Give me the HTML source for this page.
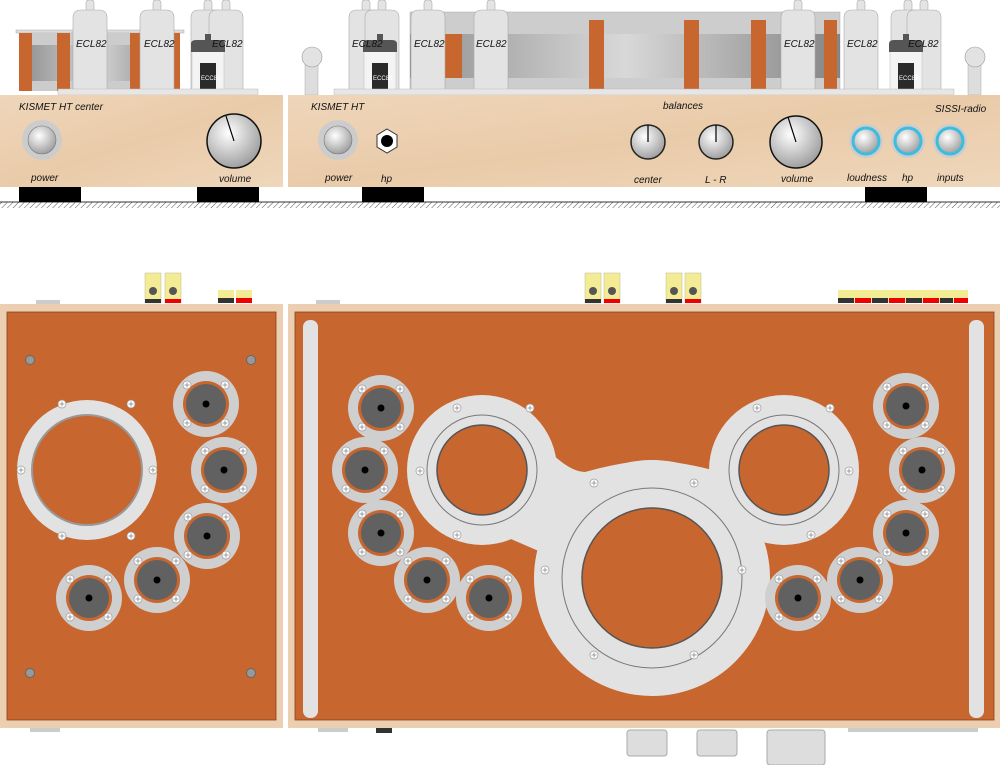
<!DOCTYPE html>
<html><head><meta charset="utf-8"><style>
html,body{margin:0;padding:0;background:#fff;width:1000px;height:765px;overflow:hidden}
text{font-family:"Liberation Sans",sans-serif;font-style:italic;font-size:10px;fill:#111}
</style></head><body>
<svg width="1000" height="765" viewBox="0 0 1000 765" xmlns="http://www.w3.org/2000/svg">
<defs>
<radialGradient id="kn" cx="40%" cy="35%" r="70%"><stop offset="0" stop-color="#fff"/><stop offset="1" stop-color="#999"/></radialGradient>
<linearGradient id="wood" x1="0" y1="0" x2="1" y2="1"><stop offset="0" stop-color="#efd6ba"/><stop offset="0.5" stop-color="#e9cba9"/><stop offset="1" stop-color="#efd7bb"/></linearGradient>
<linearGradient id="glass" x1="0" x2="1"><stop offset="0" stop-color="#777"/><stop offset="0.5" stop-color="#ddd"/><stop offset="1" stop-color="#666"/></linearGradient>
<pattern id="hatch" width="4" height="4" patternUnits="userSpaceOnUse" patternTransform="rotate(45)"><line x1="0" y1="0" x2="0" y2="4" stroke="#555" stroke-width="1"/></pattern>
<g id="scr"><circle r="4" fill="#fff" stroke="#999" stroke-width="0.7"/><path d="M-2.5 0H2.5M0 -2.5V2.5" stroke="#888" stroke-width="0.8"/></g>
<g id="sock"><circle r="33" fill="#cfcfcf"/><circle r="23" fill="#c8662f"/><circle r="20" fill="#616161"/><circle r="3.5" fill="#000"/>
<use href="#scr" x="-19" y="-19"/><use href="#scr" x="19" y="-19"/><use href="#scr" x="-19" y="19"/><use href="#scr" x="19" y="19"/></g>
<g id="tube"><rect x="-4" y="0" width="8" height="12" rx="3" fill="#e4e4e4" stroke="#aaa" stroke-width="0.6"/><path d="M-17 90V18Q-17 10 -9 10H9Q17 10 17 18V90Z" fill="#e3e3e3" stroke="#aaa" stroke-width="0.6"/></g>
<g id="ecc"><rect x="-16" y="43" width="32" height="47" fill="#f4f4f4" stroke="#bbb" stroke-width="0.5"/><path d="M-17 52V44Q-17 40 -12 40H-3V34H3V40H12Q17 40 17 44V52Z" fill="#555"/><rect x="-8" y="63" width="16" height="26" fill="#2a2a2a"/><text x="-7" y="80" style="font-size:6px;fill:#fff;font-style:normal">ECC83</text></g>
<g id="knob"><circle r="17" fill="url(#kn)" stroke="#222" stroke-width="1.5"/><line x1="0" y1="0" x2="0" y2="-17" stroke="#000" stroke-width="1.2"/></g>
<g id="btn"><circle r="20" fill="#ccc"/><circle r="14" fill="url(#kn)" stroke="#777" stroke-width="0.6"/></g>
<g id="cbtn"><circle r="17" fill="#ccc"/><circle r="13" fill="url(#kn)" stroke="#3bbde0" stroke-width="3"/></g>
</defs>

<rect x="0" y="202" width="1000" height="6" fill="url(#hatch)"/>
<line x1="0" y1="202" x2="1000" y2="202" stroke="#333" stroke-width="1"/>

<!-- LEFT TOP -->
<rect x="16" y="30" width="168" height="3" fill="#ddd" stroke="#aaa" stroke-width="0.5"/>
<rect x="24" y="33" width="150" height="58" fill="#ccc"/>
<rect x="32" y="45" width="130" height="36" fill="url(#glass)" opacity="0.6"/>
<rect x="19" y="33" width="13" height="58" fill="#c8662f"/><rect x="57" y="33" width="13" height="58" fill="#c8662f"/>
<rect x="130" y="33" width="10" height="58" fill="#c8662f"/><rect x="173" y="33" width="7" height="58" fill="#c8662f"/>
<use href="#tube" x="90" y="0"/><text x="76" y="47">ECL82</text>
<use href="#tube" x="157" y="0"/><text x="144" y="47">ECL82</text>
<use href="#tube" x="208" y="0"/><use href="#tube" x="226" y="0"/>
<use href="#ecc" x="208" y="0"/><text x="212" y="47">ECL82</text>
<rect x="58" y="89" width="200" height="6" fill="#e6e6e6" stroke="#bbb" stroke-width="0.5"/>
<rect x="0" y="95" width="283" height="92" fill="url(#wood)"/>
<text x="19" y="110">KISMET HT center</text>
<use href="#btn" x="42" y="140"/>
<circle cx="234" cy="141" r="27" fill="url(#kn)" stroke="#111" stroke-width="1.5"/><line x1="234" y1="141" x2="226" y2="116" stroke="#000" stroke-width="1.2"/>
<text x="31" y="181">power</text><text x="219" y="182">volume</text>
<rect x="19" y="187" width="62" height="15" fill="#000"/><rect x="197" y="187" width="62" height="15" fill="#000"/>

<!-- RIGHT TOP -->
<rect x="305" y="62" width="13" height="33" fill="#ddd" stroke="#aaa" stroke-width="0.5"/><circle cx="312" cy="57" r="10" fill="#e2e2e2" stroke="#999" stroke-width="0.6"/>
<rect x="968" y="62" width="13" height="33" fill="#ddd" stroke="#aaa" stroke-width="0.5"/><circle cx="975" cy="57" r="10" fill="#e2e2e2" stroke="#999" stroke-width="0.6"/>
<rect x="410" y="12" width="430" height="80" fill="#cdcdcd" stroke="#aaa" stroke-width="0.5"/>
<rect x="410" y="34" width="430" height="44" fill="url(#glass)" opacity="0.7"/>
<rect x="442" y="34" width="20" height="44" fill="#c8662f"/>
<rect x="589" y="20" width="15" height="72" fill="#c8662f"/><rect x="684" y="20" width="15" height="72" fill="#c8662f"/>
<rect x="751" y="20" width="15" height="72" fill="#c8662f"/><rect x="824" y="20" width="13" height="72" fill="#c8662f"/>
<use href="#tube" x="366" y="0"/><use href="#tube" x="382" y="0"/><use href="#ecc" x="380" y="0"/><text x="352" y="47">ECL82</text>
<use href="#tube" x="428" y="0"/><text x="414" y="47">ECL82</text>
<use href="#tube" x="491" y="0"/><text x="476" y="47">ECL82</text>
<use href="#tube" x="798" y="0"/><text x="784" y="47">ECL82</text>
<use href="#tube" x="861" y="0"/><text x="847" y="47">ECL82</text>
<use href="#tube" x="908" y="0"/><use href="#tube" x="924" y="0"/><use href="#ecc" x="906" y="0"/><text x="908" y="47">ECL82</text>
<rect x="334" y="89" width="620" height="6" fill="#e6e6e6" stroke="#bbb" stroke-width="0.5"/>
<rect x="288" y="95" width="712" height="92" fill="url(#wood)"/>
<text x="311" y="110">KISMET HT</text><text x="663" y="109">balances</text><text x="935" y="112">SISSI-radio</text>
<use href="#btn" x="338" y="140"/>
<polygon points="387,129 397,135 397,147 387,153 377,147 377,135" fill="#fff" stroke="#333"/><circle cx="387" cy="141" r="6" fill="#000"/>
<use href="#knob" x="648" y="142"/><use href="#knob" x="716" y="142"/>
<circle cx="796" cy="142" r="26" fill="url(#kn)" stroke="#111" stroke-width="1.5"/><line x1="796" y1="142" x2="788" y2="117" stroke="#000" stroke-width="1.2"/>
<use href="#cbtn" x="866" y="141"/><use href="#cbtn" x="908" y="141"/><use href="#cbtn" x="950" y="141"/>
<text x="325" y="181">power</text><text x="381" y="182">hp</text><text x="634" y="183">center</text><text x="705" y="183">L - R</text><text x="781" y="182">volume</text><text x="847" y="181">loudness</text><text x="902" y="181">hp</text><text x="937" y="181">inputs</text>
<rect x="362" y="187" width="62" height="15" fill="#000"/><rect x="865" y="187" width="62" height="15" fill="#000"/>

<!-- BOTTOM LEFT -->
<rect x="36" y="300" width="24" height="4" fill="#ccc"/>
<rect x="145" y="273" width="16" height="30" fill="#f4ec94" stroke="#bb9" stroke-width="0.5"/><circle cx="153" cy="291" r="4" fill="#555"/><rect x="145" y="299" width="16" height="4" fill="#333"/>
<rect x="165" y="273" width="16" height="30" fill="#f4ec94" stroke="#bb9" stroke-width="0.5"/><circle cx="173" cy="291" r="4" fill="#555"/><rect x="165" y="299" width="16" height="4" fill="#e00"/>
<rect x="218" y="290" width="16" height="13" fill="#f4ec94"/><rect x="218" y="298" width="16" height="5" fill="#333"/>
<rect x="236" y="290" width="16" height="13" fill="#f4ec94"/><rect x="236" y="298" width="16" height="5" fill="#e00"/>
<rect x="0" y="304" width="283" height="424" fill="#eccfb0"/>
<rect x="7" y="312" width="269" height="408" fill="#c8662f" stroke="#8a4020" stroke-width="0.8"/>
<circle cx="87" cy="470" r="70" fill="#e2e2e2"/><circle cx="87" cy="470" r="55" fill="#c8662f" stroke="#999" stroke-width="2"/>
<use href="#scr" x="62" y="404"/><use href="#scr" x="131" y="404"/><use href="#scr" x="21" y="470"/><use href="#scr" x="153" y="470"/><use href="#scr" x="62" y="536"/><use href="#scr" x="131" y="536"/>
<circle cx="30" cy="360" r="4.5" fill="#999" stroke="#666"/><circle cx="251" cy="360" r="4.5" fill="#999" stroke="#666"/><circle cx="30" cy="673" r="4.5" fill="#999" stroke="#666"/><circle cx="251" cy="673" r="4.5" fill="#999" stroke="#666"/>
<use href="#sock" x="206" y="404"/><use href="#sock" x="224" y="470"/><use href="#sock" x="207" y="536"/><use href="#sock" x="157" y="580"/><use href="#sock" x="89" y="598"/>
<rect x="30" y="728" width="30" height="4" fill="#ccc"/>

<!-- BOTTOM RIGHT -->
<rect x="316" y="300" width="24" height="4" fill="#ccc"/>
<rect x="585" y="273" width="16" height="30" fill="#f4ec94" stroke="#bb9" stroke-width="0.5"/><circle cx="593" cy="291" r="4" fill="#555"/><rect x="585" y="299" width="16" height="4" fill="#333"/>
<rect x="604" y="273" width="16" height="30" fill="#f4ec94" stroke="#bb9" stroke-width="0.5"/><circle cx="612" cy="291" r="4" fill="#555"/><rect x="604" y="299" width="16" height="4" fill="#e00"/>
<rect x="666" y="273" width="16" height="30" fill="#f4ec94" stroke="#bb9" stroke-width="0.5"/><circle cx="674" cy="291" r="4" fill="#555"/><rect x="666" y="299" width="16" height="4" fill="#333"/>
<rect x="685" y="273" width="16" height="30" fill="#f4ec94" stroke="#bb9" stroke-width="0.5"/><circle cx="693" cy="291" r="4" fill="#555"/><rect x="685" y="299" width="16" height="4" fill="#e00"/>
<rect x="838" y="290" width="130" height="13" fill="#f4ec94"/>
<rect x="838" y="298" width="16" height="5" fill="#333"/><rect x="855" y="298" width="16" height="5" fill="#e00"/><rect x="872" y="298" width="16" height="5" fill="#333"/><rect x="889" y="298" width="16" height="5" fill="#e00"/><rect x="906" y="298" width="16" height="5" fill="#333"/><rect x="923" y="298" width="16" height="5" fill="#e00"/><rect x="940" y="298" width="13" height="5" fill="#333"/><rect x="954" y="298" width="14" height="5" fill="#e00"/>
<rect x="288" y="304" width="712" height="424" fill="#eccfb0"/>
<rect x="295" y="312" width="699" height="408" fill="#c8662f" stroke="#8a4020" stroke-width="0.8"/>
<rect x="303" y="320" width="15" height="398" rx="7" fill="#e2e2e2"/>
<rect x="969" y="320" width="15" height="398" rx="7" fill="#e2e2e2"/>
<g fill="#e2e2e2">
<circle cx="482" cy="470" r="75"/><circle cx="784" cy="470" r="75"/><circle cx="652" cy="578" r="118"/>
<path d="M490 530 L548 450 Q570 472 585 472 Q620 462 652 460 Q684 462 720 472 Q736 472 758 450 L776 530 L652 600 Z"/>
</g>
<circle cx="482" cy="470" r="55" fill="none" stroke="#777" stroke-width="1"/><circle cx="482" cy="470" r="45" fill="#c8662f" stroke="#555" stroke-width="1.5"/>
<circle cx="784" cy="470" r="55" fill="none" stroke="#777" stroke-width="1"/><circle cx="784" cy="470" r="45" fill="#c8662f" stroke="#555" stroke-width="1.5"/>
<circle cx="652" cy="578" r="90" fill="none" stroke="#777" stroke-width="1"/><circle cx="652" cy="578" r="70" fill="#c8662f" stroke="#555" stroke-width="1.5"/>
<use href="#scr" x="457" y="408"/><use href="#scr" x="530" y="408"/><use href="#scr" x="420" y="471"/><use href="#scr" x="457" y="535"/>
<use href="#scr" x="757" y="408"/><use href="#scr" x="830" y="408"/><use href="#scr" x="849" y="471"/><use href="#scr" x="811" y="535"/>
<use href="#scr" x="594" y="483"/><use href="#scr" x="694" y="483"/><use href="#scr" x="545" y="570"/><use href="#scr" x="742" y="570"/><use href="#scr" x="594" y="655"/><use href="#scr" x="694" y="655"/>
<use href="#sock" x="381" y="408"/><use href="#sock" x="365" y="470"/><use href="#sock" x="381" y="533"/><use href="#sock" x="427" y="580"/><use href="#sock" x="489" y="598"/>
<use href="#sock" x="906" y="406"/><use href="#sock" x="922" y="470"/><use href="#sock" x="906" y="533"/><use href="#sock" x="860" y="580"/><use href="#sock" x="798" y="598"/>
<rect x="318" y="728" width="30" height="4" fill="#ccc"/><rect x="376" y="728" width="16" height="5" fill="#333"/>
<rect x="627" y="730" width="40" height="26" rx="3" fill="#ddd" stroke="#aaa"/>
<rect x="697" y="730" width="40" height="26" rx="3" fill="#ddd" stroke="#aaa"/>
<rect x="767" y="730" width="58" height="35" rx="3" fill="#ddd" stroke="#aaa"/>
<rect x="848" y="728" width="130" height="4" fill="#ccc"/>
</svg>
</body></html>
